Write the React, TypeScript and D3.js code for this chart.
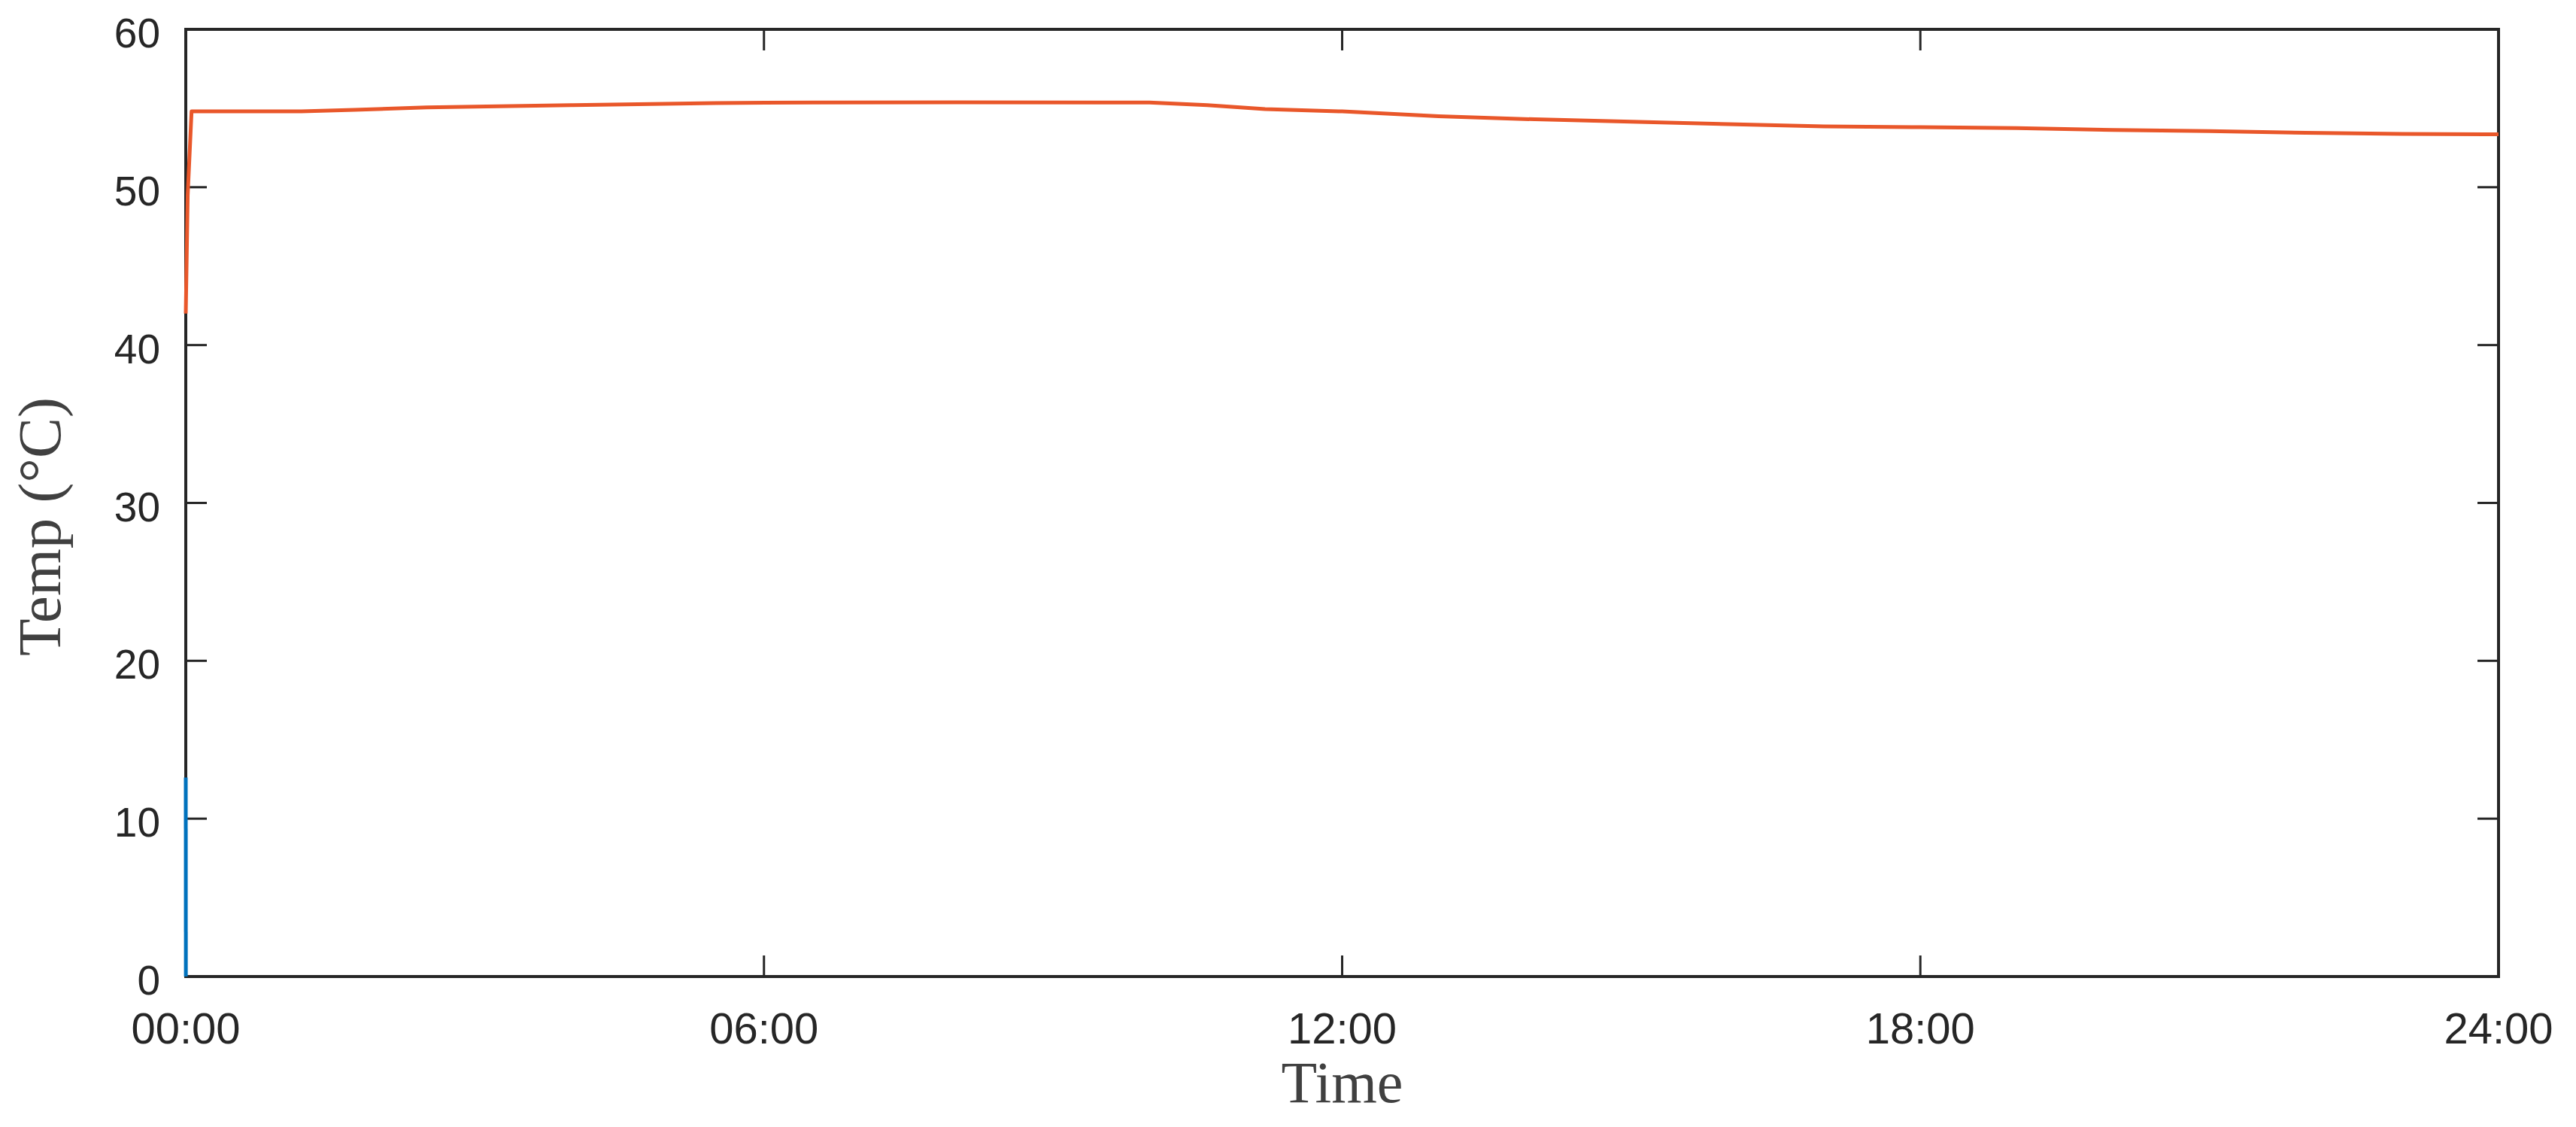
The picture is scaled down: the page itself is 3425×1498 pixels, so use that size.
import React from "react";
import * as d3 from "d3";

// time in hours since 00:00
const hours = [0, 0.02, 0.06, 1.2, 1.75, 2.5, 4, 5.5, 6.5, 8, 9.5, 10.0, 10.6, 11.2, 12, 13, 14, 15, 16, 17, 18, 19, 20, 21, 22, 23, 24];
const tempHot = [42.0, 49.5, 54.8, 54.8, 54.9, 55.05, 55.2, 55.33, 55.37, 55.38, 55.37, 55.36, 55.2, 54.95, 54.8, 54.5, 54.3, 54.15, 54.0, 53.85, 53.8, 53.75, 53.62, 53.55, 53.45, 53.38, 53.35];

const coldHours = [0, 0.001];
const tempCold = [12.6, 0];

const xTicks = [0, 6, 12, 18, 24];
const xTickLabels = ["00:00", "06:00", "12:00", "18:00", "24:00"];
const yTicks = [0, 10, 20, 30, 40, 50, 60];

const W = 3425;
const H = 1498;
const left = 247;
const right = 3322;
const top = 39;
const bottom = 1298;
const tickLen = 28;
const ink = "#262626";

const App = () => {
  const x = d3.scaleLinear().domain([0, 24]).range([left, right]);
  const y = d3.scaleLinear().domain([0, 60]).range([bottom, top]);

  const line = d3
    .line<[number, number]>()
    .x((d) => x(d[0]))
    .y((d) => y(d[1]));

  const hot = hours.map((h, i) => [h, tempHot[i]] as [number, number]);
  const cold = coldHours.map((h, i) => [h, tempCold[i]] as [number, number]);

  return (
    <svg
      width={W}
      height={H}
      style={{ position: "absolute", left: 0, top: 0, background: "#fff" }}
    >
      {/* ticks on all four sides, pointing in */}
      <g stroke={ink} strokeWidth={3}>
        {xTicks.map((t) => (
          <g key={"x" + t}>
            <line x1={x(t)} x2={x(t)} y1={bottom} y2={bottom - tickLen} />
            <line x1={x(t)} x2={x(t)} y1={top} y2={top + tickLen} />
          </g>
        ))}
        {yTicks.map((t) => (
          <g key={"y" + t}>
            <line x1={left} x2={left + tickLen} y1={y(t)} y2={y(t)} />
            <line x1={right} x2={right - tickLen} y1={y(t)} y2={y(t)} />
          </g>
        ))}
      </g>

      <rect
        x={left}
        y={top}
        width={right - left}
        height={bottom - top}
        fill="none"
        stroke={ink}
        strokeWidth={4}
      />

      <path d={line(cold) ?? ""} fill="none" stroke="#0072BD" strokeWidth={5} />
      <path d={line(hot) ?? ""} fill="none" stroke="#E9572A" strokeWidth={5} strokeLinejoin="round" />

      <g fontFamily="'Liberation Sans', Arial, sans-serif" fill={ink}>
        {yTicks.map((t) => (
          <text key={t} x={left - 34} y={y(t) + 24} fontSize={55} textAnchor="end">
            {t}
          </text>
        ))}
        {xTicks.map((t, i) => (
          <text key={t} x={x(t)} y={1387} fontSize={58} textAnchor="middle">
            {xTickLabels[i]}
          </text>
        ))}
      </g>

      <g fontFamily="'Liberation Serif', 'Times New Roman', serif" fill="#404040">
        <text x={(left + right) / 2} y={1465} fontSize={78} textAnchor="middle">
          Time
        </text>
        <text
          transform={`translate(80, 700) rotate(-90)`}
          fontSize={81}
          textAnchor="middle"
        >
          Temp (°C)
        </text>
      </g>
    </svg>
  );
};

export default App;
